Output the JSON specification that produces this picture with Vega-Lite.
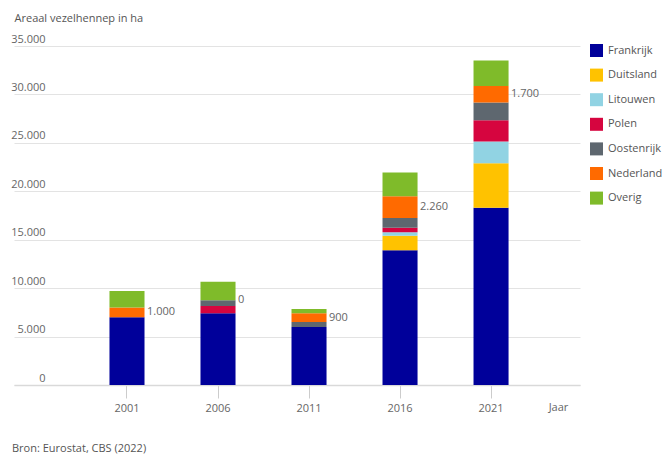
{
  "$schema": "https://vega.github.io/schema/vega-lite/v6.json",
  "autosize": {"type": "none"},
  "padding": {"left": 14, "top": 46, "right": 90, "bottom": 85},
  "width": 566,
  "height": 339,
  "title": {"text": "Bron: Eurostat, CBS (2022)", "orient": "bottom", "anchor": "start", "frame": "group", "offset": 30, "dx": -2, "fontSize": 11, "fontWeight": "normal", "color": "#555555", "font": "Open Sans"},
  "config": {
    "font": "Open Sans",
    "view": {"stroke": null},
    "locale": {"number": {"decimal": ",", "thousands": ".", "grouping": [3], "currency": ["€ ", ""]}}
  },
  "data": {"values": [
    {"jaar": "2001", "land": "Frankrijk", "ha": 7000},
    {"jaar": "2001", "land": "Nederland", "ha": 1000},
    {"jaar": "2001", "land": "Overig", "ha": 1700},
    {"jaar": "2006", "land": "Frankrijk", "ha": 7400},
    {"jaar": "2006", "land": "Polen", "ha": 750},
    {"jaar": "2006", "land": "Oostenrijk", "ha": 600},
    {"jaar": "2006", "land": "Nederland", "ha": 0},
    {"jaar": "2006", "land": "Overig", "ha": 1900},
    {"jaar": "2011", "land": "Frankrijk", "ha": 6000},
    {"jaar": "2011", "land": "Oostenrijk", "ha": 500},
    {"jaar": "2011", "land": "Nederland", "ha": 900},
    {"jaar": "2011", "land": "Overig", "ha": 450},
    {"jaar": "2016", "land": "Frankrijk", "ha": 13900},
    {"jaar": "2016", "land": "Duitsland", "ha": 1500},
    {"jaar": "2016", "land": "Litouwen", "ha": 380},
    {"jaar": "2016", "land": "Polen", "ha": 450},
    {"jaar": "2016", "land": "Oostenrijk", "ha": 1000},
    {"jaar": "2016", "land": "Nederland", "ha": 2260},
    {"jaar": "2016", "land": "Overig", "ha": 2450},
    {"jaar": "2021", "land": "Frankrijk", "ha": 18300},
    {"jaar": "2021", "land": "Duitsland", "ha": 4600},
    {"jaar": "2021", "land": "Litouwen", "ha": 2230},
    {"jaar": "2021", "land": "Polen", "ha": 2210},
    {"jaar": "2021", "land": "Oostenrijk", "ha": 1820},
    {"jaar": "2021", "land": "Nederland", "ha": 1700},
    {"jaar": "2021", "land": "Overig", "ha": 2650}
  ]},
  "transform": [
    {"calculate": "indexof(['Frankrijk','Duitsland','Litouwen','Polen','Oostenrijk','Nederland','Overig'], datum.land)", "as": "ord"}
  ],
  "layer": [
    {
      "mark": {"type": "bar"},
      "encoding": {
        "x": {
          "field": "jaar", "type": "ordinal",
          "scale": {"paddingInner": 0.615, "paddingOuter": 0.917, "align": 0.572},
          "axis": {
            "title": "Jaar", "titleX": 544, "titleY": 22, "titleAlign": "center", "titleBaseline": "middle",
            "titleFontSize": 11, "titleFontWeight": "normal", "titleColor": "#666666",
            "labelAngle": 0, "labelFontSize": 11, "labelColor": "#666666", "labelPadding": 4,
            "tickColor": "#cccccc", "tickSize": 13, "domainColor": "#d9d9d9", "domainWidth": 1.5
          }
        },
        "y": {
          "aggregate": "sum", "field": "ha", "type": "quantitative", "stack": "zero",
          "scale": {"domain": [0, 35000], "nice": false},
          "axis": {
            "title": "Areaal vezelhennep in ha", "titleAngle": 0, "titleX": 0, "titleY": -28,
            "titleAlign": "left", "titleBaseline": "middle", "titleFontSize": 11, "titleFontWeight": "normal", "titleColor": "#555555",
            "values": [0, 5000, 10000, 15000, 20000, 25000, 30000, 35000],
            "format": ",d", "domain": false, "ticks": false,
            "labelAlign": "right", "labelBaseline": "bottom", "labelPadding": -31, "labelOffset": -2,
            "labelFontSize": 11, "labelColor": "#666666",
            "grid": true, "gridColor": "#e3e3e3"
          }
        },
        "order": {"field": "ord", "type": "quantitative", "sort": "ascending"},
        "color": {
          "field": "land", "type": "nominal",
          "sort": ["Frankrijk", "Duitsland", "Litouwen", "Polen", "Oostenrijk", "Nederland", "Overig"],
          "scale": {
            "domain": ["Frankrijk", "Duitsland", "Litouwen", "Polen", "Oostenrijk", "Nederland", "Overig"],
            "range": ["#00009a", "#ffc200", "#91d3e3", "#d6053f", "#5e676f", "#ff6a00", "#7fbb2a"]
          },
          "legend": {
            "title": null, "orient": "none", "legendX": 576, "legendY": -2,
            "symbolType": "square", "symbolSize": 169, "symbolStrokeWidth": 0, "symbolOpacity": 1,
            "labelFontSize": 11, "labelColor": "#555555", "labelOffset": 5, "rowPadding": 11.6
          }
        }
      }
    },
    {
      "transform": [
        {"stack": "ha", "groupby": ["jaar"], "sort": [{"field": "ord", "order": "ascending"}], "as": ["y0", "y1"]},
        {"filter": "datum.land === 'Nederland'"},
        {"calculate": "(datum.y0 + datum.y1) / 2", "as": "mid"}
      ],
      "mark": {"type": "text", "align": "left", "baseline": "middle", "dx": 20, "fontSize": 11, "color": "#666666"},
      "encoding": {
        "x": {"field": "jaar", "type": "ordinal"},
        "y": {"field": "mid", "type": "quantitative"},
        "text": {"field": "ha", "type": "quantitative", "format": ","}
      }
    }
  ]
}
